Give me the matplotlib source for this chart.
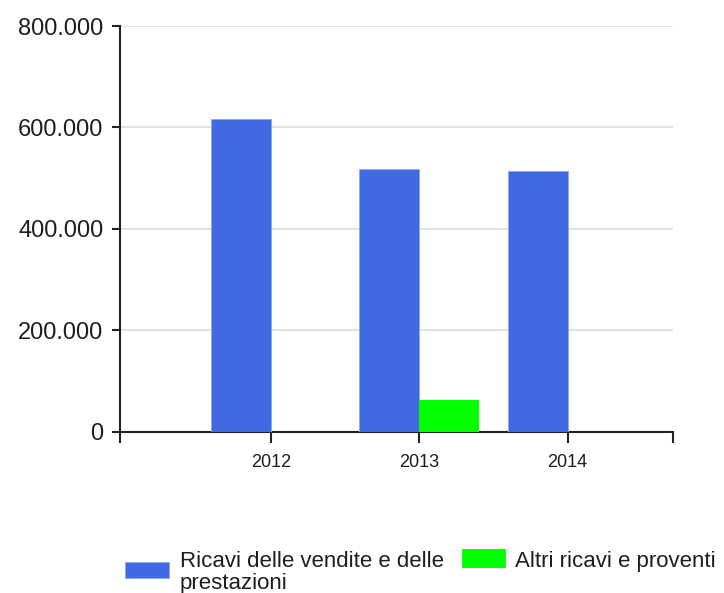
import numpy as np
import matplotlib.pyplot as plt
from matplotlib.patches import Rectangle
from matplotlib.ticker import FuncFormatter

# valori in euro per anno
anni = ['2012', '2013', '2014']
ricavi_vendite = [617000, 518000, 514000]
altri_ricavi = [0, 62000, 0]

label_vendite = 'Ricavi delle vendite e delle\nprestazioni'
label_altri = 'Altri ricavi e proventi'

blu = '#4169E1'
verde = '#00FF00'
testo = '#1e1e1e'
font = 'Liberation Sans'

W, H = 724, 593
fig = plt.figure(figsize=(W / 100, H / 100), dpi=100)
ax = fig.add_axes([0.1657, 0.2723, 0.7642, 0.6838])

x = np.arange(len(anni))
w = 0.405
ax.bar(x - w, ricavi_vendite, width=w, align='edge', color=blu,
       edgecolor='#8fa8f0', linewidth=0.6, zorder=3)
ax.bar(x, altri_ricavi, width=w, align='edge', color=verde,
       linewidth=0, zorder=3)

xmin, xmax = -1.021, 2.713
ax.set_xlim(xmin, xmax)
ax.set_ylim(0, 800000)

ax.set_yticks([0, 200000, 400000, 600000, 800000])
ax.yaxis.set_major_formatter(FuncFormatter(lambda v, p: f'{int(v):,}'.replace(',', '.')))
ax.set_xticks([xmin, 0, 1, 2, xmax])
ax.set_xticklabels(['', *anni, ''])

ax.grid(axis='y', color='#dcdcdc', linewidth=1.2, zorder=0)
for s in ['top', 'right']:
    ax.spines[s].set_visible(False)
for s in ['left', 'bottom']:
    ax.spines[s].set_linewidth(1.5)
    ax.spines[s].set_color('#222222')

ax.tick_params(axis='y', length=6, width=1.5, pad=6, colors='#222222')
ax.tick_params(axis='x', length=8, width=1.5, pad=8, colors='#222222')
for t in ax.get_yticklabels():
    t.set_fontfamily(font)
    t.set_fontsize(17)
    t.set_color(testo)
for t in ax.get_xticklabels():
    t.set_fontfamily(font)
    t.set_fontsize(13)
    t.set_color(testo)


# legenda disegnata a mano (coordinate in pixel della figura)
def riquadro(x0, y0, x1, y1, colore, bordo):
    fig.add_artist(Rectangle((x0 / W, 1 - y1 / H), (x1 - x0) / W, (y1 - y0) / H,
                             transform=fig.transFigure, facecolor=colore,
                             edgecolor=bordo, linewidth=0.6))


def scritta(x0, y_base, s):
    fig.text(x0 / W, 1 - y_base / H, s, ha='left', va='baseline',
             fontsize=16, family=font, color=testo)


riquadro(125, 562, 169, 578, blu, '#8fa8f0')
for i, riga in enumerate(label_vendite.split('\n')):
    scritta(180, 566.7 + 22 * i, riga)

riquadro(462, 548.5, 505, 566.5, verde, verde)
scritta(515, 566.7, label_altri)

fig.savefig('out.png', dpi=100)
